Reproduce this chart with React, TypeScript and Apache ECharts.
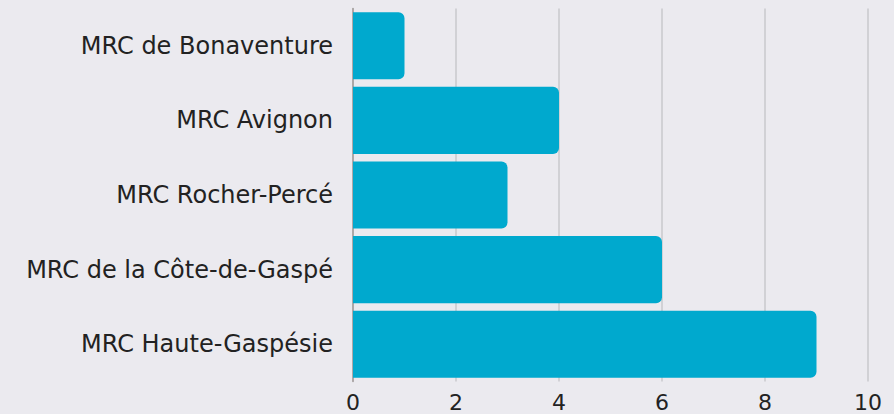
import React, { useEffect, useRef } from "react";
import * as echarts from "echarts";

const categories = [
  "MRC de Bonaventure",
  "MRC Avignon",
  "MRC Rocher-Percé",
  "MRC de la Côte-de-Gaspé",
  "MRC Haute-Gaspésie",
];
const values = [1, 4, 3, 6, 9];
const xTicks = [0, 2, 4, 6, 8, 10];

export default function App() {
  const ref = useRef<HTMLDivElement>(null);
  useEffect(() => {
    if (!ref.current) return;
    const chart = echarts.init(ref.current, null, { renderer: "svg" });
    chart.setOption({
      animation: false,
      backgroundColor: "#ebeaef",
      grid: { left: 353, right: 26, top: 8.5, bottom: 32.5, containLabel: false },
      xAxis: {
        type: "value",
        min: xTicks[0],
        max: xTicks[xTicks.length - 1],
        interval: 2,
        axisLine: { show: false },
        axisTick: { show: false },
        splitLine: { show: true, lineStyle: { color: "#c9c8cd", width: 1.5 } },
        axisLabel: {
          color: "#222222",
          fontSize: 22,
          fontFamily: "DejaVu Sans",
          fontWeight: 400,
          margin: 10,
        },
      },
      yAxis: {
        type: "category",
        inverse: true,
        data: categories,
        axisLine: { show: true, lineStyle: { color: "#a09a98", width: 1.5 } },
        axisTick: { show: false },
        axisLabel: {
          color: "#222222",
          fontSize: 24,
          fontFamily: "DejaVu Sans",
          fontWeight: 400,
          margin: 20,
        },
      },
      series: [
        {
          type: "bar",
          data: values,
          barCategoryGap: "10%",
          itemStyle: { color: "#00a9ce", borderRadius: [0, 6, 6, 0] },
        },
      ],
    });
    return () => chart.dispose();
  }, []);
  return <div ref={ref} style={{ width: 894, height: 414, position: "absolute", left: 0, top: 0 }} />;
}
